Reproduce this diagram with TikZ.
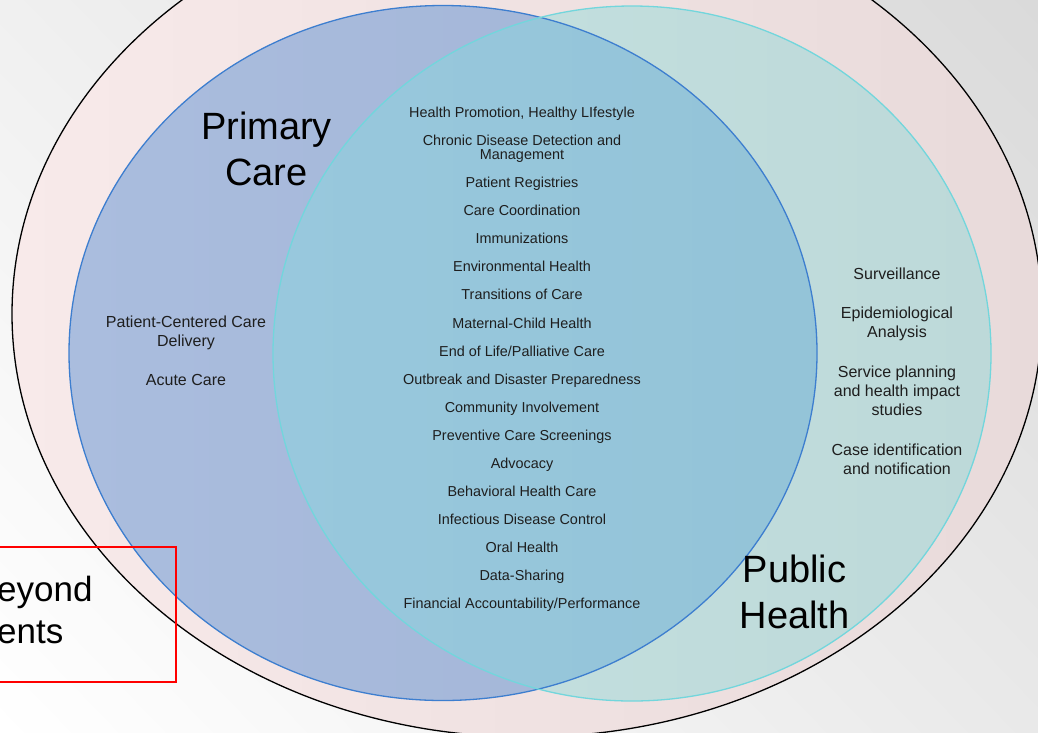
\documentclass[tikz,border=0pt]{standalone}
\usepackage{fontspec}
\setmainfont{Liberation Sans}
\usetikzlibrary{shadings}
\definecolor{bgUL}{HTML}{F0F0F0}
\definecolor{bgUR}{HTML}{DADADA}
\definecolor{bgLL}{HTML}{FFFFFF}
\definecolor{bgLR}{HTML}{E9E9E9}
\definecolor{pinkL}{HTML}{F8EAEA}
\definecolor{pinkR}{HTML}{E8DADA}
\definecolor{pcfillL}{HTML}{AABDDE}
\definecolor{pcfillR}{HTML}{A2B4D6}
\definecolor{phfillL}{HTML}{C5E1E0}
\definecolor{phfillR}{HTML}{BDD9D9}
\definecolor{ovfillL}{HTML}{98C8DD}
\definecolor{ovfillR}{HTML}{92C2D6}
\definecolor{pcline}{HTML}{3D7ECF}
\definecolor{phline}{HTML}{72D6DC}
\definecolor{txt}{HTML}{1E1E1E}
\begin{document}
\begin{tikzpicture}[x=1pt,y=-1pt,
  item/.style={font=\fontsize{14.4}{14.3}\selectfont, text=txt, align=center, inner sep=0pt, anchor=base},
  side/.style={font=\fontsize{16}{19}\selectfont, text=txt, align=center, inner sep=0pt, anchor=base},
  title/.style={font=\fontsize{38}{46}\selectfont, text=black, align=center, inner sep=0pt, anchor=base},
  redbox/.style={draw=red, line width=2pt, inner sep=0pt, minimum width=185pt, minimum height=135pt, anchor=north east}]
\useasboundingbox (0,0) rectangle (1038,732);
\shade[upper left=bgUL, upper right=bgUR, lower left=bgLL, lower right=bgLR] (0,0) rectangle (1038,732);
% outer ellipse
\shadedraw[left color=pinkL, right color=pinkR, draw=black, line width=1.3pt] (527,314) ellipse [x radius=515pt, y radius=423pt];
% primary care circle
\shade[left color=pcfillL, right color=pcfillR] (443,353) ellipse [x radius=374pt, y radius=347.5pt];
% public health circle
\shade[left color=phfillL, right color=phfillR] (632,353.5) ellipse [x radius=359pt, y radius=347.5pt];
% overlap
\begin{scope}
  \clip (443,353) ellipse [x radius=374pt, y radius=347.5pt];
  \shade[left color=ovfillL, right color=ovfillR] (632,353.5) ellipse [x radius=359pt, y radius=347.5pt];
\end{scope}
\draw[pcline, line width=1.3pt] (443,353) ellipse [x radius=374pt, y radius=347.5pt];
\draw[phline, line width=1.3pt] (632,353.5) ellipse [x radius=359pt, y radius=347.5pt];

% titles (base anchor = baseline of last line)
\node[title] (prim) at (266.5,185.5) {Primary\\Care};
\node[title] (pub) at (794.5,628.7) {Public\\Health};

% shared items
\node[item] (h1) at (522,117.7) {Health Promotion, Healthy LIfestyle};
\node[item] (h2) at (522,159.3) {Chronic Disease Detection and\\Management};
\foreach \t [count=\k] in {Patient Registries, Care Coordination, Immunizations, Environmental Health, Transitions of Care, Maternal-Child Health, End of Life/Palliative Care, Outbreak and Disaster Preparedness, Community Involvement, Preventive Care Screenings, Advocacy, Behavioral Health Care, Infectious Disease Control, Oral Health, Data-Sharing, Financial Accountability/Performance}
  \node[item] (i\k) at (522,{187.7+(\k-1)*28.07}) {\t};

% primary care only
\node[side] (pccd) at (186,346) {Patient-Centered Care\\Delivery};
\node[side] (acute) at (186,385) {Acute Care};

% public health only
\node[side] (surv) at (897,279.3) {Surveillance};
\node[side] (epi) at (897,337.3) {Epidemiological\\Analysis};
\node[side] (serv) at (897,415.7) {Service planning\\and health impact\\studies};
\node[side] (case) at (897,474) {Case identification\\and notification};

% red box
\node[redbox] (box) at (177,545.7) {};
\node[font=\fontsize{35}{41.5}\selectfont, align=left, inner sep=0pt, anchor=base west] (beyond) at (-3,643) {eyond\\ents};
\end{tikzpicture}
\end{document}
